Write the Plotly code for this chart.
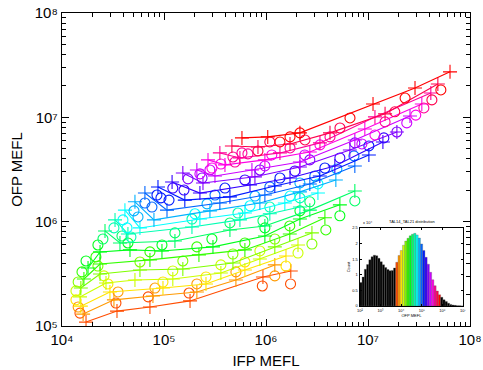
import colorsys
import plotly.graph_objects as go

N_SERIES = 20

IFP_PLUS = [
    [1.72e4, 3.46e4, 7.28e4, 1.80e5, 9.33e5, 1.75e6],
    [1.61e4, 3.23e4, 7.79e4, 2.10e5, 5.07e5, 1.22e6],
    [1.53e4, 2.95e4, 9.77e4, 2.58e5, 6.21e5, 1.57e6],
    [1.50e4, 2.70e4, 5.19e4, 1.22e5, 3.61e5, 8.71e5, 2.06e6],
    [1.53e4, 2.36e4, 5.81e4, 1.53e5, 4.74e5, 1.22e6, 2.82e6],
    [1.64e4, 2.36e4, 7.28e4, 2.20e5, 6.21e5, 1.71e6, 3.78e6],
    [1.80e4, 2.36e4, 4.64e4, 9.55e4, 3.02e5, 9.75e5, 2.15e6, 5.30e6],
    [2.64e4, 3.70e4, 1.28e5, 4.43e5, 9.75e5, 2.69e6, 7.43e6],
    [3.31e4, 4.43e4, 1.88e5, 5.55e5, 1.09e6, 2.15e6],
    [4.14e4, 5.81e4, 2.25e5, 6.21e5, 1.53e6, 3.23e6],
    [5.19e4, 7.97e4, 2.82e5, 8.71e5, 2.15e6, 4.84e6],
    [6.50e4, 1.07e5, 3.53e5, 9.75e5, 2.69e6, 7.43e6],
    [8.73e4, 1.60e5, 4.43e5, 1.22e6, 3.37e6, 1.02e7],
    [1.20e5, 2.25e5, 6.97e5, 1.72e6, 4.73e6, 1.40e7],
    [1.53e5, 2.41e5, 7.79e5, 2.15e6, 6.64e6, 1.92e7],
    [2.10e5, 3.16e5, 7.28e5, 2.15e6, 7.43e6, 2.58e7],
    [2.70e5, 3.96e5, 9.75e5, 2.69e6, 9.31e6, 3.37e7],
    [3.53e5, 5.55e5, 1.37e6, 3.38e6, 1.17e7, 4.13e7],
    [4.63e5, 8.34e5, 1.72e6, 4.24e6, 1.47e7, 4.84e7],
    [5.81e5, 1.04e6, 2.15e6, 1.12e7, 2.89e7, 6.37e7],
]
OFP_PLUS = [
    [1.09e5, 1.39e5, 1.52e5, 1.74e5, 2.95e5, 3.37e5],
    [1.30e5, 1.78e5, 1.94e5, 2.12e5, 2.76e5, 3.85e5],
    [1.55e5, 2.12e5, 2.31e5, 2.53e5, 3.44e5, 4.69e5],
    [1.90e5, 2.58e5, 2.76e5, 2.82e5, 3.22e5, 4.39e5, 5.98e5],
    [2.31e5, 3.15e5, 3.44e5, 3.52e5, 4.02e5, 5.73e5, 7.80e5],
    [2.82e5, 3.93e5, 4.30e5, 4.80e5, 5.36e5, 7.62e5, 1.09e6],
    [3.60e5, 5.13e5, 5.36e5, 5.24e5, 5.73e5, 7.29e5, 1.06e6, 1.45e6],
    [8.15e5, 6.25e5, 6.53e5, 8.33e5, 9.10e5, 1.29e6, 1.97e6],
    [1.04e6, 7.62e5, 8.90e5, 1.04e6, 1.19e6, 1.38e6],
    [1.29e6, 8.71e5, 1.06e6, 1.21e6, 1.51e6, 1.88e6],
    [1.55e6, 1.04e6, 1.27e6, 1.51e6, 1.93e6, 2.51e6],
    [1.88e6, 1.29e6, 1.51e6, 1.80e6, 2.30e6, 3.42e6],
    [2.15e6, 1.61e6, 1.73e6, 2.20e6, 2.74e6, 4.36e6],
    [2.40e6, 1.88e6, 2.25e6, 2.62e6, 3.42e6, 5.81e6],
    [2.93e6, 2.35e6, 2.69e6, 3.34e6, 4.87e6, 7.24e6],
    [3.13e6, 2.74e6, 3.13e6, 3.73e6, 6.07e6, 1.03e7],
    [3.91e6, 3.50e6, 3.91e6, 4.66e6, 7.74e6, 1.34e7],
    [4.56e6, 4.08e6, 4.56e6, 5.69e6, 1.01e7, 1.71e7],
    [5.32e6, 5.20e6, 5.56e6, 7.10e6, 1.08e7, 2.09e7],
    [6.35e6, 6.49e6, 7.10e6, 1.34e7, 1.91e7, 2.73e7],
]
IFP_CIRC = [
    [1.50e4, 3.38e4, 7.00e4, 1.76e5, 9.20e5, 1.74e6],
    [1.44e4, 3.54e4, 8.15e4, 2.10e5, 5.07e5, 1.22e6],
    [1.37e4, 2.82e4, 9.77e4, 2.58e5, 6.21e5, 1.57e6],
    [1.37e4, 2.58e4, 1.22e5, 3.61e5, 8.71e5, 2.06e6],
    [1.44e4, 2.25e4, 5.81e4, 1.53e5, 4.74e5, 1.22e6, 2.82e6],
    [1.57e4, 2.15e4, 7.28e4, 2.10e5, 6.21e5, 1.71e6, 3.86e6],
    [1.72e4, 2.25e4, 4.43e4, 9.55e4, 2.95e5, 9.75e5, 2.15e6, 5.30e6],
    [2.52e4, 3.87e4, 1.28e5, 4.43e5, 9.33e5, 2.69e6, 7.43e6],
    [3.23e4, 4.74e4, 1.88e5, 5.31e5, 1.09e6, 2.15e6],
    [3.96e4, 4.34e4, 2.01e5, 6.97e5, 1.72e6, 3.23e6],
    [5.08e4, 5.56e4, 2.64e5, 7.80e5, 2.15e6, 4.95e6],
    [6.50e4, 7.62e4, 3.16e5, 1.09e6, 3.01e6, 7.28e6],
    [8.53e4, 9.33e4, 1.12e5, 3.96e5, 1.37e6, 3.78e6, 1.02e7],
    [1.22e5, 1.57e5, 6.21e5, 1.92e6, 5.30e6, 1.43e7],
    [1.72e5, 2.36e5, 8.71e5, 2.69e6, 7.43e6, 1.92e7],
    [2.25e5, 2.82e5, 9.75e5, 2.40e6, 8.71e6, 2.40e7],
    [2.95e5, 3.61e5, 1.14e6, 3.38e6, 1.17e7, 2.94e7],
    [4.74e5, 4.96e5, 5.81e5, 6.65e5, 1.72e6, 4.24e6, 1.47e7, 3.53e7],
    [8.34e5, 1.09e6, 2.41e6, 5.31e6, 1.83e7, 4.23e7],
    [1.37e6, 1.72e6, 2.15e6, 6.66e6, 2.31e7, 5.18e7],
]
OFP_CIRC = [
    [1.33e5, 1.66e5, 1.90e5, 2.07e5, 2.42e5, 2.53e5],
    [1.52e5, 2.12e5, 2.31e5, 2.53e5, 3.30e5, 3.02e5],
    [1.78e5, 2.53e5, 2.64e5, 2.95e5, 4.11e5, 3.76e5],
    [2.17e5, 3.02e5, 3.37e5, 3.85e5, 5.24e5, 5.01e5],
    [2.64e5, 3.76e5, 4.11e5, 4.20e5, 4.90e5, 6.82e5, 6.11e5],
    [3.30e5, 4.59e5, 5.13e5, 5.73e5, 6.25e5, 9.10e5, 8.33e5],
    [4.20e5, 5.98e5, 6.25e5, 5.98e5, 6.82e5, 8.71e5, 1.27e6, 1.14e6],
    [6.82e5, 7.29e5, 7.80e5, 9.72e5, 1.02e6, 1.55e6, 1.58e6],
    [8.71e5, 7.13e5, 1.06e6, 1.21e6, 1.38e6, 1.69e6],
    [1.04e6, 8.71e5, 1.19e6, 1.42e6, 1.76e6, 2.30e6],
    [1.27e6, 1.11e6, 1.48e6, 1.76e6, 2.35e6, 3.20e6],
    [1.51e6, 1.38e6, 1.80e6, 2.15e6, 2.74e6, 4.27e6],
    [1.80e6, 1.69e6, 1.61e6, 2.10e6, 2.62e6, 3.27e6, 5.32e6],
    [2.10e6, 2.01e6, 2.51e6, 3.06e6, 4.08e6, 6.35e6],
    [2.57e6, 2.62e6, 3.13e6, 3.91e6, 5.69e6, 7.24e6],
    [2.87e6, 3.13e6, 3.42e6, 4.36e6, 5.56e6, 8.84e6],
    [3.27e6, 3.57e6, 4.36e6, 5.44e6, 6.78e6, 1.05e7],
    [4.17e6, 3.73e6, 4.56e6, 4.46e6, 5.09e6, 6.49e6, 9.04e6, 1.23e7],
    [4.76e6, 5.81e6, 6.07e6, 7.91e6, 1.13e7, 1.47e7],
    [5.81e6, 6.49e6, 7.10e6, 9.87e6, 1.53e7, 1.83e7],
]

# inset histogram (counts per bin, OFP MEFL on a log scale from 10^2 to 10^7)
HIST_COUNTS = [7500, 9300, 11800, 13300, 14800, 15800, 16300, 16100, 15300, 14200,
               13200, 12300, 11700, 11300, 11400, 12200, 14000, 16200, 17800, 19500,
               20800, 21700, 22500, 23000, 23300, 22800, 21800, 19900, 17800, 15600,
               13400, 10800, 8400, 6500, 4800, 3600, 2800, 2000, 1400, 900,
               500, 300, 200, 100, 50, 20]
HIST_LOG_START = 2.0
HIST_LOG_END = 7.0
FIRST_COLORED_BIN = 16
INSET_TICK_EXP = [2, 3, 4, 5, 6, 7]
INSET_Y_TICKS = [0, 5000, 10000, 15000, 20000, 25000]
INSET_Y_LABELS = ["0", "0.5", "1", "1.5", "2", "2.5"]
X_DECADES = [4, 5, 6, 7, 8]
Y_DECADES = [5, 6, 7, 8]

SUP = str.maketrans("0123456789", "⁰¹²³⁴⁵⁶⁷⁸⁹")


def pow10_label(e):
    return "10" + str(e).translate(SUP)


def series_color(k):
    r, g, b = colorsys.hsv_to_rgb(((k + 1) / N_SERIES) % 1.0, 1.0, 1.0)
    return "rgb(%d,%d,%d)" % (round(r * 255), round(g * 255), round(b * 255))


fig = go.Figure()
for k in range(N_SERIES):
    c = series_color(k)
    fig.add_trace(go.Scatter(
        x=IFP_PLUS[k], y=OFP_PLUS[k], mode="lines+markers",
        line=dict(color=c, width=1.1),
        marker=dict(symbol="cross-thin-open", size=10, color=c, line=dict(color=c, width=1.1)),
        showlegend=False, hoverinfo="skip"))
    fig.add_trace(go.Scatter(
        x=IFP_CIRC[k], y=OFP_CIRC[k], mode="markers",
        marker=dict(symbol="circle-open", size=10, color=c, line=dict(color=c, width=1.1)),
        showlegend=False, hoverinfo="skip"))

# empty carriers for the minor-tick overlay axes
fig.add_trace(go.Scatter(x=[], y=[], xaxis="x3", yaxis="y", showlegend=False, hoverinfo="skip"))
fig.add_trace(go.Scatter(x=[], y=[], xaxis="x", yaxis="y3", showlegend=False, hoverinfo="skip"))

nb = len(HIST_COUNTS)
bw = (HIST_LOG_END - HIST_LOG_START) / nb
centers = [HIST_LOG_START + (i + 0.5) * bw for i in range(nb)]
bar_colors = []
for i in range(nb):
    j = i - FIRST_COLORED_BIN
    bar_colors.append(series_color(j) if 0 <= j < N_SERIES else "black")
fig.add_trace(go.Bar(
    x=centers, y=HIST_COUNTS, width=bw, xaxis="x2", yaxis="y2",
    marker=dict(color=bar_colors, line=dict(color="#5a5a5a", width=0.3)),
    showlegend=False, hoverinfo="skip"))

x_minor = [m * 10 ** e for e in X_DECADES[:-1] for m in range(2, 10)]
y_minor = [m * 10 ** e for e in Y_DECADES[:-1] for m in range(2, 10)]

FONT = "Liberation Sans, Arial, Helvetica, sans-serif"
common = dict(showgrid=False, zeroline=False, showline=True, linecolor="black",
              linewidth=1.2, mirror="ticks", ticks="inside", tickcolor="black",
              automargin=False)
fig.update_layout(
    width=483, height=370,
    margin=dict(l=62, r=13, t=13, b=44, autoexpand=False),
    paper_bgcolor="white", plot_bgcolor="white",
    font=dict(family=FONT, color="black"),
    showlegend=False, bargap=0,
    xaxis=dict(type="log", range=[4, 8], tickvals=[10 ** e for e in X_DECADES],
               ticktext=[pow10_label(e) for e in X_DECADES], ticklen=7,
               tickfont=dict(size=15),
               title=dict(text="IFP MEFL", font=dict(size=15), standoff=8), **common),
    yaxis=dict(type="log", range=[5, 8], tickvals=[10 ** e for e in Y_DECADES],
               ticktext=[pow10_label(e) for e in Y_DECADES], ticklen=7,
               tickfont=dict(size=15),
               title=dict(text="OFP MEFL", font=dict(size=15), standoff=8), **common),
    xaxis3=dict(type="log", range=[4, 8], overlaying="x", anchor="y",
                tickvals=x_minor, showticklabels=False, ticklen=4, **common),
    yaxis3=dict(type="log", range=[5, 8], overlaying="y", anchor="x",
                tickvals=y_minor, showticklabels=False, ticklen=4, **common),
    xaxis2=dict(domain=[0.730, 0.983], anchor="y2", range=[HIST_LOG_START, HIST_LOG_END],
                tickvals=INSET_TICK_EXP,
                ticktext=[pow10_label(e) for e in INSET_TICK_EXP],
                tickfont=dict(size=4), ticklen=2,
                title=dict(text="OFP MEFL", font=dict(size=4), standoff=1), **common),
    yaxis2=dict(domain=[0.064, 0.313], anchor="x2", range=[0, 25000],
                tickvals=INSET_Y_TICKS, ticktext=INSET_Y_LABELS,
                tickfont=dict(size=4), ticklen=2,
                title=dict(text="Count", font=dict(size=4), standoff=1), **common),
    annotations=[
        dict(text="TAL14_TAL21 distribution", xref="paper", yref="paper",
             x=0.857, y=0.318, xanchor="center", yanchor="bottom",
             showarrow=False, font=dict(size=4)),
        dict(text="x " + pow10_label(4), xref="paper", yref="paper",
             x=0.733, y=0.315, xanchor="left", yanchor="bottom",
             showarrow=False, font=dict(size=4)),
    ],
)

# remove the browser's default 8px body margin so the 483x370 figure fills the window
fig.write_html(
    "out.html",
    config={"displayModeBar": False, "staticPlot": True},
    post_script="document.body.style.margin='0';document.body.style.overflow='hidden';"
                "document.documentElement.style.overflow='hidden';",
)
